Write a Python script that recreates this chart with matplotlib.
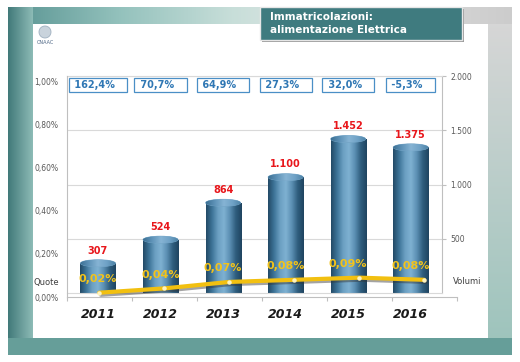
import matplotlib
matplotlib.use('Agg')
import matplotlib.pyplot as plt
import matplotlib.patheffects as pe
import numpy as np
from matplotlib.colors import LinearSegmentedColormap
from matplotlib.patches import Rectangle, Ellipse, Circle
from matplotlib.transforms import blended_transform_factory

# data
years = ['2011', '2012', '2013', '2014', '2015', '2016']
volumes = [307, 524, 864, 1100, 1452, 1375]
quote = [0.02, 0.04, 0.07, 0.08, 0.09, 0.08]          # share, %
growth = [162.4, 70.7, 64.9, 27.3, 32.0, -5.3]        # yoy change, %
pct_ticks = [0.0, 0.2, 0.4, 0.6, 0.8, 1.0]
vol_ticks = [500, 1000, 1500, 2000]
title_lines = ['Immatricolazioni:', 'alimentazione Elettrica']

W, H = 520, 362
GREY = '#bfbfbf'
GRID = '#d9d9d9'


def box(x0, y0, x1, y1):
    """pixel box (top-left origin) -> figure fraction rect"""
    return [x0 / W, 1 - y1 / H, (x1 - x0) / W, (y1 - y0) / H]


def it_num(v):
    return f'{v:,}'.replace(',', '.')


def it_pct(v, nd):
    return f'{v:.{nd}f}%'.replace('.', ',')


fig = plt.figure(figsize=(W / 100, H / 100), dpi=100)

# ---- slide background ----
bg = fig.add_axes([0, 0, 1, 1])
bg.set_axis_off()
img = np.ones((H, W, 3))
xs = np.arange(W)
ys = np.arange(H)
img[7:355, 8:512] = (0.42, 0.63, 0.61)
t = (xs[8:33] - 8) / 25
for k, (a, b) in enumerate(zip((0.26, 0.48, 0.48), (0.56, 0.74, 0.72))):
    img[7:338, 8:33, k] = a + (b - a) * t
stops = [33, 120, 230, 300, 470, 512]
cols = np.array([(0.40, 0.62, 0.61), (0.58, 0.76, 0.74), (0.78, 0.87, 0.85),
                 (0.86, 0.90, 0.89), (0.82, 0.82, 0.82), (0.80, 0.80, 0.80)])
for k in range(3):
    img[7:24, 33:512, k] = np.interp(xs[33:512], stops, cols[:, k])
tv = (ys[24:338] - 24) / 314
for k, (a, b) in enumerate(zip((0.84, 0.84, 0.84), (0.62, 0.77, 0.74))):
    img[24:338, 488:512, k] = (a + (b - a) * tv)[:, None]
img[338:355, 8:512] = (0.40, 0.62, 0.60)
img[24:338, 33:488] = 1.0
bg.imshow(img, extent=(0, W, H, 0), interpolation='bilinear', aspect='auto')
bg.set_xlim(0, W)
bg.set_ylim(H, 0)

# title box
bg.add_patch(Rectangle((262, 9), 202, 33, fc='#9a9a9a', ec='none'))
bg.add_patch(Rectangle((260, 7), 202, 33, fc='#3f7b7f', ec='#e6e6e6', lw=1))
bg.text(270, 17, title_lines[0], color='white', fontsize=7.5,
        fontweight='bold', va='center')
bg.text(270, 30, title_lines[1], color='white', fontsize=7.5,
        fontweight='bold', va='center')

# logo
bg.add_patch(Circle((45, 32), 6, fc='#c9d3dc', ec='#9fb0c0', lw=0.6))
bg.text(45, 42, 'CNAAC', fontsize=3.5, color='#4d6685', ha='center', va='center')

bg.text(33, 282, 'Quote', fontsize=6, color='#404040', va='center')
bg.text(453, 282, 'Volumi', fontsize=6, color='#404040', va='center')

# ---- bars (volumes, right axis) ----
ax_bar = fig.add_axes(box(66.7, 76, 442, 293), zorder=2)
ax_bar.patch.set_alpha(0)
x = np.arange(len(years))
bw = 0.56
cap = 7 * 2000 / 217

body_cmap = LinearSegmentedColormap.from_list(
    'cyl', ['#234a66', '#3d7498', '#6b9fc2', '#7fb1d2', '#5b8fb3', '#2f5d7d', '#1f4460'])
top_cmap = LinearSegmentedColormap.from_list(
    'cap', ['#3b6f93', '#5f93b8', '#86b4d4', '#6fa2c6', '#4a7fa3'])
grad = np.linspace(0, 1, 128).reshape(1, -1)

bars = ax_bar.bar(x, np.array(volumes) - cap / 2, width=bw, color='#3f759a',
                  zorder=2)
for b, v in zip(bars, volumes):
    x0 = b.get_x()
    h = b.get_height()
    im = ax_bar.imshow(grad, cmap=body_cmap, extent=(x0, x0 + bw, 0, h),
                       aspect='auto', zorder=2.1)
    im.set_clip_path(b)
    el = Ellipse((x0 + bw / 2, h), bw, cap, fc='#5d92b6', ec='#7aaacb',
                 lw=0.5, zorder=2.2)
    ax_bar.add_patch(el)
    im2 = ax_bar.imshow(grad, cmap=top_cmap,
                        extent=(x0, x0 + bw, h - cap / 2, h + cap / 2),
                        aspect='auto', zorder=2.3)
    im2.set_clip_path(el)
    ax_bar.annotate(it_num(v), xy=(x0 + bw / 2, v), xytext=(0, 3),
                    textcoords='offset points', ha='center', va='bottom',
                    color='#e8161b', fontsize=7, fontweight='bold', zorder=4)

# growth boxes
for i, g in enumerate(growth):
    ax_bar.text(i, 1917, ' ' + it_pct(g, 1) + '   ', ha='center', va='center',
                fontsize=7, fontweight='bold', color='#2f77b4', zorder=4,
                bbox=dict(boxstyle='square,pad=0.25', fc='white',
                          ec='#4a8fc6', lw=0.9))

ax_bar.set_xlim(-0.5, len(years) - 0.5)
ax_bar.set_ylim(0, 2000)
ax_bar.yaxis.tick_right()
ax_bar.set_yticks(vol_ticks, [it_num(v) for v in vol_ticks])
ax_bar.tick_params(axis='y', length=3, color=GREY, labelsize=5.5,
                   labelcolor='#595959', pad=3)
ax_bar.grid(axis='y', color=GRID, lw=0.8, zorder=0)
ax_bar.set_axisbelow(True)
ax_bar.set_xticks(x, years)
ax_bar.tick_params(axis='x', length=0, pad=11, labelsize=9,
                   labelcolor='#1a1a1a')
for lab in ax_bar.get_xticklabels():
    lab.set_fontweight('bold')
    lab.set_fontstyle('italic')
ax_bar.spines['left'].set_visible(False)
ax_bar.spines['top'].set_color(GRID)
ax_bar.spines['bottom'].set_color(GRID)
ax_bar.spines['right'].set_color(GREY)

# ---- share line (left axis) ----
ax_pct = fig.add_axes(box(66.7, 76, 456.7, 297), zorder=3)
ax_pct.patch.set_alpha(0)
xl = np.arange(len(years)) + 0.5
ax_pct.plot(xl, quote, color='#f2c010', lw=3, solid_capstyle='round',
            path_effects=[pe.SimpleLineShadow(offset=(1.2, -1.5),
                                              shadow_color='#333333', alpha=0.45),
                          pe.Normal()], zorder=3)
ax_pct.plot(xl, quote, 'o', ms=2.2, color='#fff4c0', zorder=4)
ax_pct.set_xlim(0, len(years))
ax_pct.set_ylim(0, 1.0 * 221 / 215)
ax_pct.set_yticks(pct_ticks, [it_pct(v, 2) for v in pct_ticks])
ax_pct.tick_params(axis='y', length=0, labelsize=5.5, labelcolor='#595959',
                   pad=6)
ax_pct.set_xticks(np.arange(len(years) + 1), [''] * (len(years) + 1))
ax_pct.tick_params(axis='x', length=3, color=GREY)
ax_pct.spines['top'].set_visible(False)
ax_pct.spines['right'].set_visible(False)
ax_pct.spines['left'].set_color(GREY)
ax_pct.spines['bottom'].set_color(GREY)

trans = blended_transform_factory(ax_bar.transData, ax_pct.transData)
for i, q in enumerate(quote):
    ax_pct.annotate(it_pct(q, 2), xy=(i, q), xycoords=trans, xytext=(0, 10),
                    textcoords='offset points', ha='center', va='center',
                    fontsize=8, fontweight='bold', color='#f2c31b', zorder=5)

fig.savefig('out.png', dpi=100)
